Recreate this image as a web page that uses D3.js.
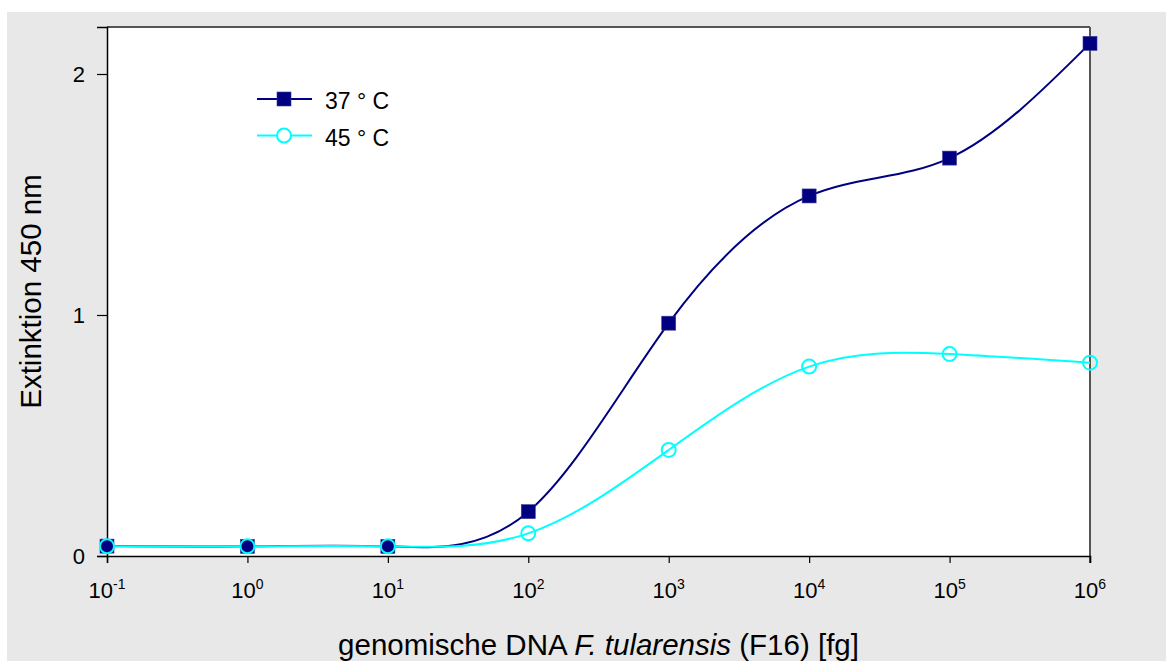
<!DOCTYPE html>
<html>
<head>
<meta charset="utf-8">
<script src="https://cdn.jsdelivr.net/npm/d3@7"></script>
<style>
  html, body { margin: 0; padding: 0; background: #ffffff; }
  svg { display: block; font-family: Arial, "Liberation Sans", sans-serif; }
</style>
</head>
<body>
<svg id="chart" width="1166" height="661"></svg>
<script>
// DNA amount in fg (log axis) and absorbance at 450 nm for two hybridisation temperatures
const dnaAmounts = [1e-1, 1e0, 1e1, 1e2, 1e3, 1e4, 1e5, 1e6];
const ext37 = [0.041, 0.040, 0.040, 0.184, 0.966, 1.494, 1.651, 2.127];
const ext45 = [0.040, 0.040, 0.040, 0.094, 0.440, 0.786, 0.838, 0.802];
const seriesNames = ["37 \u00b0 C", "45 \u00b0 C"];
const xTickExponents = [-1, 0, 1, 2, 3, 4, 5, 6];
const yTicks = [0, 1, 2];

const svg = d3.select("#chart");
const W = 1166, H = 661;
const plot = { left: 107, right: 1090, top: 27, bottom: 556 };

// panel background
svg.append("rect").attr("x", 7).attr("y", 12).attr("width", W - 7).attr("height", H - 12)
  .attr("fill", "#e8e8e8");
svg.append("rect").attr("x", plot.left).attr("y", plot.top)
  .attr("width", plot.right - plot.left).attr("height", plot.bottom - plot.top)
  .attr("fill", "#ffffff");

const x = d3.scaleLog().domain([1e-1, 1e6]).range([plot.left, plot.right]);
const y = d3.scaleLinear().domain([0, 2.195]).range([plot.bottom, plot.top]);

// frame: top and right in dark grey
svg.append("line").attr("x1", plot.left).attr("x2", plot.right).attr("y1", plot.top).attr("y2", plot.top)
  .attr("stroke", "#555555").attr("stroke-width", 2);
svg.append("line").attr("x1", plot.right).attr("x2", plot.right).attr("y1", plot.top).attr("y2", plot.bottom + 7)
  .attr("stroke", "#555555").attr("stroke-width", 2);

// x axis
const xAxis = svg.append("g").attr("transform", `translate(0,${plot.bottom})`)
  .call(d3.axisBottom(x).tickValues(xTickExponents.map(e => Math.pow(10, e))).tickFormat("").tickSizeOuter(0).tickSize(7));
xAxis.select(".domain").attr("stroke", "#000").attr("stroke-width", 1.5);
xAxis.selectAll(".tick line").attr("stroke", "#000").attr("stroke-width", 1.2);

const xLabels = svg.append("g");
xTickExponents.forEach(e => {
  const t = xLabels.append("text")
    .attr("x", x(Math.pow(10, e))).attr("y", 598)
    .attr("text-anchor", "middle").attr("font-size", 22).attr("fill", "#000");
  t.append("tspan").text("10");
  t.append("tspan").attr("dy", -9).attr("font-size", 14).text(String(e));
});

// y axis
const yAxis = svg.append("g").attr("transform", `translate(${plot.left},0)`)
  .call(d3.axisLeft(y).tickValues(yTicks).tickFormat(d3.format("d")).tickSizeOuter(0).tickSize(10).tickPadding(12));
yAxis.select(".domain").attr("stroke", "#000").attr("stroke-width", 1.5);
yAxis.selectAll(".tick line").attr("stroke", "#000").attr("stroke-width", 1.2);
yAxis.selectAll(".tick text").attr("font-size", 22).attr("fill", "#000")
  .attr("font-family", "Arial, 'Liberation Sans', sans-serif");

// axis titles
const xTitle = svg.append("text")
  .attr("x", (plot.left + plot.right) / 2).attr("y", 655)
  .attr("text-anchor", "middle").attr("font-size", 29.5).attr("fill", "#000");
xTitle.append("tspan").text("genomische DNA ");
xTitle.append("tspan").attr("font-style", "italic").text("F. tularensis");
xTitle.append("tspan").text(" (F16) [fg]");

svg.append("text")
  .attr("transform", `translate(41,${(plot.top + plot.bottom) / 2}) rotate(-90)`)
  .attr("text-anchor", "middle").attr("font-size", 29.5).attr("fill", "#000")
  .text("Extinktion 450 nm");

// spline curves through the measured points
const line = d3.line().curve(d3.curveNatural)
  .x((d, i) => x(dnaAmounts[i])).y(d => y(d));

svg.append("path").datum(ext37).attr("d", line)
  .attr("fill", "none").attr("stroke", "#000080").attr("stroke-width", 2);
svg.append("path").datum(ext45).attr("d", line)
  .attr("fill", "none").attr("stroke", "#00ffff").attr("stroke-width", 2);

// markers
const sq = 14;
svg.append("g").selectAll("rect").data(ext37).join("rect")
  .attr("x", (d, i) => x(dnaAmounts[i]) - sq / 2)
  .attr("y", d => y(d) - sq / 2)
  .attr("width", sq).attr("height", sq)
  .attr("fill", "#000080").attr("stroke", "#3a3a9a").attr("stroke-width", 0.6);

svg.append("g").selectAll("circle").data(ext45).join("circle")
  .attr("cx", (d, i) => x(dnaAmounts[i]))
  .attr("cy", d => y(d))
  .attr("r", 7)
  .attr("fill", "none").attr("stroke", "#00ffff").attr("stroke-width", 2);

// legend
const legend = svg.append("g");
const legendRows = [
  { name: seriesNames[0], color: "#000080", shape: "square", cy: 99 },
  { name: seriesNames[1], color: "#00ffff", shape: "circle", cy: 135.5 }
];
legendRows.forEach(r => {
  legend.append("line").attr("x1", 257).attr("x2", 312).attr("y1", r.cy).attr("y2", r.cy)
    .attr("stroke", r.color).attr("stroke-width", 2);
  if (r.shape === "square") {
    legend.append("rect").attr("x", 284 - sq / 2).attr("y", r.cy - sq / 2)
      .attr("width", sq).attr("height", sq).attr("fill", r.color)
      .attr("stroke", "#3a3a9a").attr("stroke-width", 0.6);
  } else {
    legend.append("circle").attr("cx", 284).attr("cy", r.cy).attr("r", 7)
      .attr("fill", "#ffffff").attr("stroke", r.color).attr("stroke-width", 2);
  }
  legend.append("text").attr("x", 325).attr("y", r.cy + 10.3)
    .attr("font-size", 23).attr("fill", "#000").text(r.name);
});
</script>
</body>
</html>
